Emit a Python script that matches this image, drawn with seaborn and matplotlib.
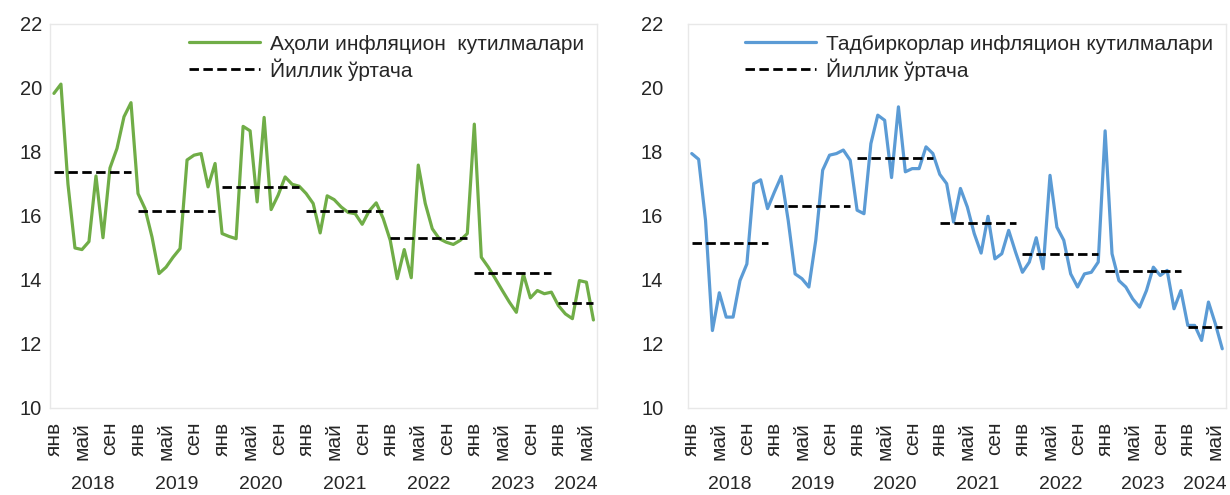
import numpy as np
import pandas as pd
import matplotlib
matplotlib.use('Agg')
import matplotlib.pyplot as plt
import matplotlib.transforms as mtransforms
from matplotlib.lines import Line2D
import seaborn as sns

# Monthly data, Jan 2018 - Jun 2024
years = ['2018', '2019', '2020', '2021', '2022', '2023', '2024']
months_in_year = [12, 12, 12, 12, 12, 12, 6]
month_labels = ['янв', 'май', 'сен']

household = [19.83, 20.12, 17.0, 15.0, 14.95, 15.2, 17.25, 15.32, 17.5, 18.11, 19.1, 19.54,
             16.7, 16.23, 15.34, 14.2, 14.4, 14.71, 14.98, 17.75, 17.9, 17.95, 16.91, 17.64,
             15.45, 15.36, 15.29, 18.8, 18.66, 16.44, 19.08, 16.2, 16.65, 17.22, 16.99, 16.93,
             16.7, 16.39, 15.47, 16.63, 16.51, 16.28, 16.11, 16.07, 15.74, 16.16, 16.41, 15.92,
             15.24, 14.04, 14.95, 14.07, 17.59, 16.39, 15.6, 15.29, 15.18, 15.11, 15.24, 15.45,
             18.87, 14.71, 14.4, 14.04, 13.67, 13.31, 12.99, 14.19, 13.44, 13.67, 13.57, 13.62,
             13.2, 12.94, 12.79, 13.98, 13.93, 12.75]
business = [17.95, 17.77, 15.86, 12.42, 13.6, 12.84, 12.84, 13.98, 14.5, 17.01, 17.13, 16.23,
            16.75, 17.24, 15.86, 14.19, 14.04, 13.78, 15.24, 17.43, 17.9, 17.95, 18.06, 17.74,
            16.18, 16.07, 18.26, 19.15, 18.99, 17.2, 19.41, 17.38, 17.48, 17.48, 18.16, 17.95,
            17.3, 17.01, 15.81, 16.86, 16.28, 15.45, 14.84, 15.99, 14.66, 14.82, 15.55, 14.87,
            14.24, 14.56, 15.32, 14.35, 17.27, 15.65, 15.24, 14.19, 13.78, 14.19, 14.24, 14.56,
            18.66, 14.82, 13.98, 13.78, 13.41, 13.15, 13.67, 14.4, 14.14, 14.3, 13.1, 13.67,
            12.58, 12.58, 12.11, 13.31, 12.63, 11.85]

# Yearly averages as shown on the chart
household_avg = [17.37, 16.15, 16.91, 16.16, 15.31, 14.23, 13.28]
business_avg = [15.17, 16.31, 17.80, 15.78, 14.80, 14.27, 12.52]

labels_left = ['Аҳоли инфляцион  кутилмалари', 'Йиллик ўртача']
labels_right = ['Тадбиркорлар инфляцион кутилмалари', 'Йиллик ўртача']

sns.set_style('white')
plt.rcParams['font.family'] = ['Liberation Sans', 'DejaVu Sans']
plt.rcParams['font.size'] = 14

year_col = np.repeat(years, months_in_year)
idx = np.arange(len(household))
month_in_year = np.concatenate([np.arange(n) for n in months_in_year])

df = pd.DataFrame({'idx': idx, 'year': year_col,
                   'household': household, 'business': business})
df['household_avg'] = df['year'].map(dict(zip(years, household_avg)))
df['business_avg'] = df['year'].map(dict(zip(years, business_avg)))

fig = plt.figure(figsize=(12.3, 4.95), dpi=100)
ax1 = fig.add_axes([0.041, 0.1758, 0.4443, 0.7758])
ax2 = fig.add_axes([0.5596, 0.1758, 0.4369, 0.7758])

dash = (0, (3.4, 1.6))
panels = [(ax1, 'household', '#70AD47', labels_left, 6),
          (ax2, 'business', '#5B9BD5', labels_right, 18)]

for ax, col, color, labels, ypad in panels:
    sns.lineplot(data=df, x='idx', y=col, color=color, linewidth=2.3, ax=ax)
    sns.lineplot(data=df, x='idx', y=col + '_avg', units='year', estimator=None,
                 color='black', linewidth=2.0, linestyle=dash, ax=ax)

    ax.set_xlim(-0.5, len(df) - 0.5)
    ax.set_ylim(10, 22)
    ax.set_yticks(range(10, 23, 2))
    ax.set_xlabel('')
    ax.set_ylabel('')

    tick_pos = df.loc[month_in_year % 4 == 0, 'idx']
    tick_lab = [month_labels[m // 4] for m in month_in_year[month_in_year % 4 == 0]]
    ax.set_xticks(tick_pos)
    ax.set_xticklabels(tick_lab, rotation=90, fontsize=15)
    ax.tick_params(axis='x', length=0, pad=10)
    ax.tick_params(axis='y', length=0, pad=ypad, labelsize=14.5)

    # year labels under the month labels
    trans = mtransforms.blended_transform_factory(ax.transData, ax.transAxes)
    start = 0
    for yr, n in zip(years, months_in_year):
        ax.text(start + (n - 1) / 2, -0.198, yr, transform=trans,
                ha='center', va='center', fontsize=14)
        start += n

    for sp in ax.spines.values():
        sp.set_color('#E8E8E8')
        sp.set_linewidth(1.0)

    handles = [Line2D([], [], color=color, linewidth=2.3),
               Line2D([], [], color='black', linewidth=2.0, linestyle=dash)]
    ax.legend(handles, labels, loc='upper right', frameon=False, fontsize=15,
              handlelength=3.4, handletextpad=0.5, labelspacing=0.22,
              borderaxespad=0.2, bbox_to_anchor=(1.0, 1.005))

fig.savefig('out.png', dpi=100)
